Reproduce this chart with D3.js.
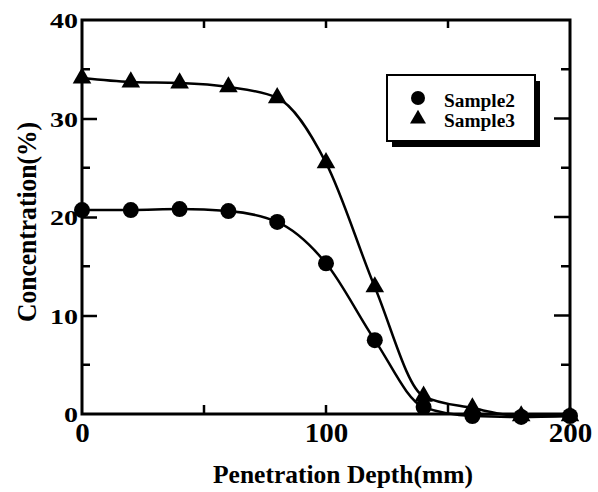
<!DOCTYPE html>
<html>
<head>
<meta charset="utf-8">
<script src="https://cdn.jsdelivr.net/npm/d3@7"></script>
<style>
  body { margin: 0; background: #fff; }
  svg text { font-family: "Liberation Serif", "Times New Roman", serif; font-weight: bold; fill: #000; }
</style>
</head>
<body>
<svg id="viz"></svg>
<script>
// data
const depth = [0, 20, 40, 60, 80, 100, 120, 140, 160, 180, 200];
const sample2 = [20.7, 20.7, 20.8, 20.6, 19.5, 15.3, 7.5, 0.7, -0.2, -0.3, -0.2];
const sample3 = [34.1, 33.7, 33.6, 33.2, 32.1, 25.5, 12.9, 1.8, 0.6, -0.2, -0.2];
const seriesNames = ['Sample2', 'Sample3'];
const xTickLabels = [0, 100, 200];
const yTickLabels = [0, 10, 20, 30, 40];

var width = 598, height = 492;
var margin = { top: 20, right: 28, bottom: 78, left: 82 };
var drawWidth = width - margin.left - margin.right;
var drawHeight = height - margin.top - margin.bottom;

var svg = d3.select('#viz').attr('width', width).attr('height', height);
var g = svg.append('g').attr('transform', `translate(${margin.left},${margin.top})`);

var xScale = d3.scaleLinear().domain([0, 200]).range([0, drawWidth]);
var yScale = d3.scaleLinear().domain([0, 40]).range([drawHeight, 0]);

// frame
g.append('rect')
  .attr('width', drawWidth).attr('height', drawHeight)
  .attr('fill', 'none').attr('stroke', '#000').attr('stroke-width', 3);

// left axis, ticks inward
var yAxis = g.append('g')
  .call(d3.axisLeft(yScale).tickValues(yTickLabels).tickSize(-15).tickPadding(4).tickFormat(d3.format('d')));
yAxis.select('.domain').remove();
yAxis.selectAll('line').attr('stroke-width', 2.5);
yAxis.selectAll('text').attr('font-size', 22).attr('dy', '0.36em')
  .attr('textLength', d => String(d).length * 14).attr('lengthAdjust', 'spacingAndGlyphs');
yAxis.selectAll('.tick').filter(d => d == 40 || d == 0).select('line').remove();

// bottom axis
var xAxis = g.append('g').attr('transform', `translate(0,${drawHeight})`)
  .call(d3.axisBottom(xScale).tickValues(xTickLabels).tickSize(0).tickPadding(9).tickFormat(d3.format('d')));
xAxis.select('.domain').remove();
xAxis.selectAll('text').attr('font-size', 27).attr('dy', '0.71em')
  .attr('textLength', d => String(d).length * 14.5).attr('lengthAdjust', 'spacingAndGlyphs');

// minor ticks
var tickG = g.append('g').attr('stroke', '#000').attr('stroke-width', 2.5);
[5, 15, 25, 35].forEach(v => {
  tickG.append('line').attr('x1', 0).attr('x2', 8).attr('y1', yScale(v)).attr('y2', yScale(v));
  tickG.append('line').attr('x1', drawWidth).attr('x2', drawWidth - 9).attr('y1', yScale(v)).attr('y2', yScale(v));
});
[10, 20, 30].forEach(v => {
  tickG.append('line').attr('x1', drawWidth).attr('x2', drawWidth - 16).attr('y1', yScale(v)).attr('y2', yScale(v));
});
[50, 100, 150].forEach(v => {
  tickG.append('line').attr('x1', xScale(v)).attr('x2', xScale(v)).attr('y1', 0).attr('y2', 8);
  tickG.append('line').attr('x1', xScale(v)).attr('x2', xScale(v)).attr('y1', drawHeight).attr('y2', drawHeight - 9);
});

// lines
var line = d3.line().curve(d3.curveMonotoneX)
  .x((d, i) => xScale(depth[i]))
  .y(d => yScale(d));

[sample2, sample3].forEach(s => {
  g.append('path').datum(s).attr('d', line)
    .attr('fill', 'none').attr('stroke', '#000').attr('stroke-width', 2.5);
});

var tri = d3.symbol().type(d3.symbolTriangle).size(150);

g.selectAll('.tri').data(sample3).enter().append('path')
  .attr('class', 'tri')
  .attr('d', tri)
  .attr('transform', (d, i) => `translate(${xScale(depth[i])},${yScale(d)})`)
  .attr('fill', '#000');

g.selectAll('.dot').data(sample2).enter().append('circle')
  .attr('class', 'dot')
  .attr('cx', (d, i) => xScale(depth[i]))
  .attr('cy', d => yScale(d))
  .attr('r', 8)
  .attr('fill', '#000');

// legend
var legend = svg.append('g').attr('transform', 'translate(387,75)');
legend.append('rect').attr('x', 5).attr('y', 6).attr('width', 148).attr('height', 66).attr('fill', '#000');
legend.append('rect').attr('width', 148).attr('height', 66).attr('fill', '#fff').attr('stroke', '#000').attr('stroke-width', 2);
legend.append('circle').attr('cx', 31).attr('cy', 23).attr('r', 7).attr('fill', '#000');
legend.append('path').attr('d', d3.symbol().type(d3.symbolTriangle).size(110)).attr('transform', 'translate(31,44)').attr('fill', '#000');
seriesNames.forEach((name, i) => {
  legend.append('text').attr('x', 57).attr('y', 32 + i * 20).attr('font-size', 18)
    .attr('textLength', 71).attr('lengthAdjust', 'spacingAndGlyphs').text(name);
});

// axis titles
svg.append('text').attr('x', 343).attr('y', 483).attr('text-anchor', 'middle')
  .attr('font-size', 25).attr('textLength', 260).attr('lengthAdjust', 'spacingAndGlyphs')
  .text('Penetration Depth(mm)');
svg.append('text').attr('transform', 'translate(36,222) rotate(-90)').attr('text-anchor', 'middle')
  .attr('font-size', 27).attr('textLength', 200).attr('lengthAdjust', 'spacingAndGlyphs')
  .text('Concentration(%)');
</script>
</body>
</html>
